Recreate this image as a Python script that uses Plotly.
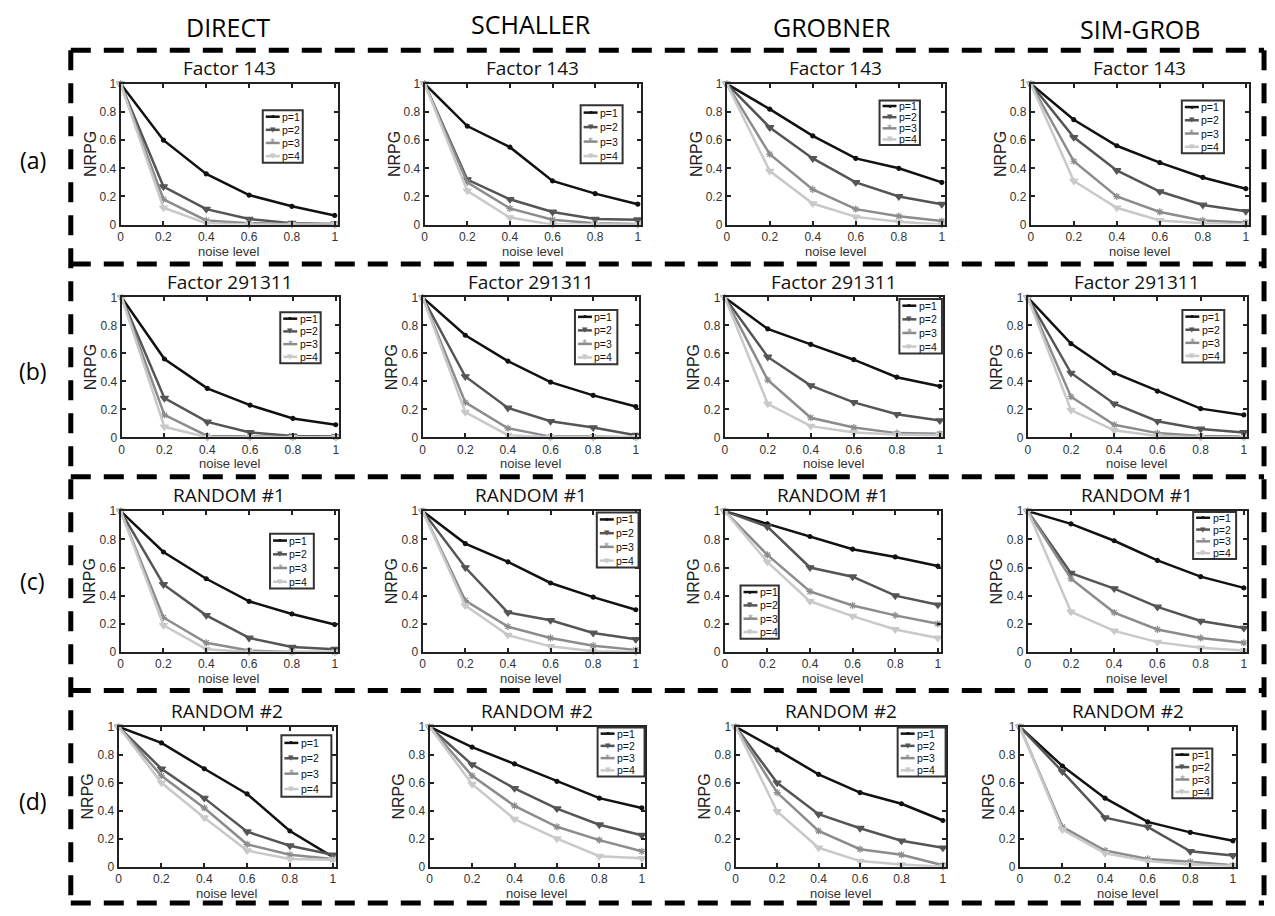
import plotly.graph_objects as go

W, H = 1275, 916

# ---------------- data ----------------
noise = [0, 0.2, 0.4, 0.6, 0.8, 1.0]
tick_vals = [0, 0.2, 0.4, 0.6, 0.8, 1.0]
tick_text = ["0", "0.2", "0.4", "0.6", "0.8", "1"]
methods = ["DIRECT", "SCHALLER", "GROBNER", "SIM-GROB"]
row_labels = ["(a)", "(b)", "(c)", "(d)"]
row_titles = ["Factor 143", "Factor 291311", "RANDOM #1", "RANDOM #2"]
series_names = ["p=1", "p=2", "p=3", "p=4"]
x_label = "noise level"
y_label = "NRPG"

# each panel: [p=1, p=2, p=3, p=4]
f143_direct = [[1, 0.60, 0.36, 0.21, 0.13, 0.065],
               [1, 0.27, 0.11, 0.04, 0.01, 0.005],
               [1, 0.18, 0.03, 0.01, 0.005, 0.0],
               [1, 0.12, 0.01, 0.0, 0.0, 0.0]]
f143_schaller = [[1, 0.70, 0.55, 0.31, 0.22, 0.145],
                 [1, 0.32, 0.18, 0.09, 0.04, 0.035],
                 [1, 0.30, 0.115, 0.035, 0.01, 0.005],
                 [1, 0.24, 0.05, 0.0, 0.0, 0.0]]
f143_grobner = [[1, 0.82, 0.63, 0.47, 0.40, 0.30],
                [1, 0.69, 0.47, 0.30, 0.20, 0.145],
                [1, 0.50, 0.25, 0.11, 0.06, 0.025],
                [1, 0.38, 0.15, 0.055, 0.02, 0.0]]
f143_simgrob = [[1, 0.745, 0.56, 0.44, 0.335, 0.255],
                [1, 0.62, 0.385, 0.235, 0.14, 0.095],
                [1, 0.45, 0.20, 0.09, 0.03, 0.015],
                [1, 0.31, 0.12, 0.03, 0.01, 0.0]]

f291311_direct = [[1, 0.56, 0.35, 0.23, 0.135, 0.09],
                  [1, 0.28, 0.11, 0.035, 0.01, 0.005],
                  [1, 0.16, 0.01, 0.005, 0.0, 0.0],
                  [1, 0.075, 0.0, 0.0, 0.0, 0.0]]
f291311_schaller = [[1, 0.73, 0.545, 0.395, 0.30, 0.22],
                    [1, 0.435, 0.21, 0.115, 0.07, 0.015],
                    [1, 0.25, 0.065, 0.005, 0.005, 0.0],
                    [1, 0.18, 0.015, 0.0, 0.0, 0.0]]
f291311_grobner = [[1, 0.775, 0.665, 0.555, 0.43, 0.365],
                   [1, 0.575, 0.37, 0.25, 0.165, 0.12],
                   [1, 0.41, 0.14, 0.07, 0.03, 0.025],
                   [1, 0.24, 0.08, 0.035, 0.02, 0.015]]
f291311_simgrob = [[1, 0.67, 0.46, 0.33, 0.205, 0.16],
                   [1, 0.46, 0.24, 0.115, 0.06, 0.035],
                   [1, 0.29, 0.09, 0.03, 0.01, 0.005],
                   [1, 0.195, 0.05, 0.01, 0.0, 0.0]]

rand1_direct = [[1, 0.71, 0.52, 0.36, 0.27, 0.195],
                [1, 0.48, 0.26, 0.10, 0.035, 0.02],
                [1, 0.245, 0.065, 0.01, 0.0, 0.0],
                [1, 0.19, 0.02, 0.0, 0.0, 0.0]]
rand1_schaller = [[1, 0.77, 0.64, 0.49, 0.39, 0.30],
                  [1, 0.60, 0.28, 0.225, 0.135, 0.09],
                  [1, 0.365, 0.18, 0.10, 0.045, 0.015],
                  [1, 0.33, 0.12, 0.04, 0.005, 0.0]]
rand1_grobner = [[1, 0.91, 0.82, 0.73, 0.675, 0.61],
                 [1, 0.89, 0.60, 0.535, 0.40, 0.335],
                 [1, 0.69, 0.43, 0.33, 0.26, 0.20],
                 [1, 0.64, 0.36, 0.255, 0.16, 0.10]]
rand1_simgrob = [[1, 0.91, 0.79, 0.65, 0.535, 0.455],
                 [1, 0.56, 0.45, 0.32, 0.22, 0.17],
                 [1, 0.52, 0.28, 0.16, 0.10, 0.065],
                 [1, 0.285, 0.15, 0.07, 0.03, 0.01]]

rand2_direct = [[1, 0.885, 0.70, 0.52, 0.255, 0.07],
                [1, 0.70, 0.49, 0.25, 0.15, 0.085],
                [1, 0.65, 0.42, 0.16, 0.085, 0.055],
                [1, 0.60, 0.35, 0.115, 0.055, 0.05]]
rand2_schaller = [[1, 0.855, 0.735, 0.61, 0.49, 0.42],
                  [1, 0.73, 0.56, 0.415, 0.30, 0.225],
                  [1, 0.65, 0.435, 0.285, 0.19, 0.11],
                  [1, 0.59, 0.34, 0.20, 0.075, 0.06]]
rand2_grobner = [[1, 0.835, 0.66, 0.53, 0.45, 0.33],
                 [1, 0.60, 0.375, 0.275, 0.185, 0.135],
                 [1, 0.53, 0.255, 0.125, 0.085, 0.01],
                 [1, 0.395, 0.135, 0.04, 0.015, 0.0]]
rand2_simgrob = [[1, 0.72, 0.49, 0.32, 0.245, 0.185],
                 [1, 0.68, 0.35, 0.285, 0.11, 0.08],
                 [1, 0.285, 0.115, 0.055, 0.035, 0.01],
                 [1, 0.265, 0.095, 0.04, 0.015, 0.005]]

panels = [
    [f143_direct, f143_schaller, f143_grobner, f143_simgrob],
    [f291311_direct, f291311_schaller, f291311_grobner, f291311_simgrob],
    [rand1_direct, rand1_schaller, rand1_grobner, rand1_simgrob],
    [rand2_direct, rand2_schaller, rand2_grobner, rand2_simgrob],
]

# ---------------- styling / layout geometry (pixels) ----------------
colors = ["#111111", "#555555", "#8c8c8c", "#c9c9c9"]
symbols = ["circle", "triangle-down", "asterisk-open", "triangle-down"]
msizes = [4, 7, 6, 7]
glyphs = ["\u2022", "\u25BC", "*", "\u25BC"]
gsizes = [10, 7, 10, 7]

XPIX = [
    [(118, 336), (423, 640), (726, 945), (1031, 1250)],
    [(119, 337), (421, 638), (724, 943), (1028, 1248)],
    [(118, 336), (421, 638), (724, 941), (1028, 1248)],
    [(116, 334), (428, 644), (735, 946), (1020, 1237)],
]
YPIX = [(78, 221), (295, 437), (512, 655), (731, 873)]

# legend boxes in axis-domain fractions: x0, x1, y0, y1
LEG = [
    [(0.654, 0.838, 0.44, 0.813), (0.721, 0.915, 0.435, 0.847),
     (0.70, 0.885, 0.565, 0.882), (0.692, 0.885, 0.506, 0.882)],
    [(0.73, 0.916, 0.53, 0.894), (0.704, 0.90, 0.523, 0.91),
     (0.80, 0.995, 0.60, 0.99), (0.705, 0.896, 0.535, 0.91)],
    [(0.6875, 0.889, 0.45, 0.84), (0.805, 0.998, 0.60, 0.99),
     (0.073, 0.25, 0.094, 0.473), (0.754, 0.95, 0.66, 0.995)],
    [(0.749, 0.979, 0.50, 0.94), (0.78, 0.998, 0.645, 0.995),
     (0.77, 0.998, 0.645, 0.995), (0.705, 0.89, 0.49, 0.845)],
]

sans = "Liberation Sans, Arial, sans-serif"
tick_font = dict(family=sans, size=12, color="#333333")
title_font = dict(family="Open Sans, sans-serif", size=19, color="#111111")

fig = go.Figure()
shapes = []
annotations = []

for r in range(4):
    top, bot = YPIX[r]
    for c in range(4):
        k = r * 4 + c + 1
        xa = "x" if k == 1 else f"x{k}"
        ya = "y" if k == 1 else f"y{k}"
        data = panels[r][c]
        for i in range(4):
            fig.add_trace(go.Scatter(
                x=noise, y=data[i], name=series_names[i], mode="lines+markers",
                line=dict(color=colors[i], width=2.5),
                marker=dict(symbol=symbols[i], size=msizes[i], color=colors[i],
                            line=dict(color=colors[i], width=1.2)),
                xaxis=xa, yaxis=ya, showlegend=False, cliponaxis=False))
        left, right = XPIX[r][c]
        pw, ph = right - left, bot - top
        axis_common = dict(
            showline=True, linewidth=2, linecolor="#222222", mirror="ticks",
            ticks="inside", ticklen=4, tickwidth=1.5, tickcolor="#222222",
            showgrid=False, zeroline=False, tickfont=tick_font,
            tickvals=tick_vals, ticktext=tick_text, fixedrange=True)
        fig.update_layout({
            ("xaxis" if k == 1 else f"xaxis{k}"): dict(
                domain=[left / W, right / W], anchor=ya, range=[0, 1.015],
                **axis_common),
            ("yaxis" if k == 1 else f"yaxis{k}"): dict(
                domain=[1 - bot / H, 1 - top / H], anchor=xa, range=[0, 1],
                **axis_common),
        })
        # axis titles
        annotations.append(dict(
            x=(left + right) / 2 / W, y=1 - (bot + 27) / H, xref="paper", yref="paper",
            text=x_label, showarrow=False, xanchor="center", yanchor="middle",
            font=dict(family=sans, size=13, color="#333333")))
        annotations.append(dict(
            x=(left - 31) / W, y=1 - (top + bot) / 2 / H, xref="paper", yref="paper",
            text=y_label, showarrow=False, xanchor="center", yanchor="middle", textangle=-90,
            font=dict(family=sans, size=16, color="#222222")))
        # panel title
        annotations.append(dict(
            x=(left + right) / 2 / W, y=1 - (top - 16) / H, xref="paper", yref="paper",
            text=row_titles[r], showarrow=False, font=title_font,
            xanchor="center", yanchor="middle"))
        # legend box (drawn manually to match the compact MATLAB style)
        lx0, lx1, ly0, ly1 = LEG[r][c]
        xd = f"{xa} domain"
        yd = f"{ya} domain"
        shapes.append(dict(type="rect", xref=xd, yref=yd, x0=lx0, x1=lx1, y0=ly0, y1=ly1,
                           line=dict(color="#333333", width=2), fillcolor="white", layer="above"))
        step = (ly1 - ly0) / 4
        for i in range(4):
            yy = ly1 - (i + 0.5) * step
            s0 = lx0 + 3 / pw
            s1 = lx0 + 17 / pw
            shapes.append(dict(type="line", xref=xd, yref=yd, x0=s0, x1=s1, y0=yy, y1=yy,
                               line=dict(color=colors[i], width=2.5), layer="above"))
            annotations.append(dict(x=(s0 + s1) / 2, y=yy, xref=xd, yref=yd, text=glyphs[i],
                                    showarrow=False, xanchor="center", yanchor="middle",
                                    font=dict(family="DejaVu Sans", size=gsizes[i], color=colors[i])))
            annotations.append(dict(x=s1 + 0.5 / pw, y=yy, xref=xd, yref=yd, text=series_names[i],
                                    showarrow=False, xanchor="left", yanchor="middle",
                                    font=dict(family=sans, size=10.5, color="#111111")))

# column headers
header_x = [226, 530, 832, 1141]
header_y = [20, 17, 20, 22]
for c in range(4):
    annotations.append(dict(x=header_x[c] / W, y=1 - header_y[c] / H, xref="paper", yref="paper",
                            text=methods[c], showarrow=False, xanchor="center", yanchor="middle",
                            font=dict(family="Open Sans, sans-serif", size=25, color="#000000")))
# row labels
label_y = [155, 370, 583, 806]
for r in range(4):
    annotations.append(dict(x=30 / W, y=1 - label_y[r] / H, xref="paper", yref="paper",
                            text=row_labels[r], showarrow=False, xanchor="center", yanchor="middle",
                            font=dict(family="Open Sans, sans-serif", size=23, color="#000000")))

# dashed frame
dash = "20px,13px"
frame = dict(color="black", width=5, dash=dash)
bx0, bx1 = 68 / W, 1265 / W
for yv in [44, 261, 477, 694, 910]:
    shapes.append(dict(type="line", xref="paper", yref="paper", x0=bx0, x1=bx1,
                       y0=1 - yv / H, y1=1 - yv / H, line=frame))
for xv in [68, 1265]:
    shapes.append(dict(type="line", xref="paper", yref="paper", x0=xv / W, x1=xv / W,
                       y0=1 - 44 / H, y1=1 - 910 / H, line=frame))

fig.update_layout(
    width=W, height=H, margin=dict(l=0, r=0, t=0, b=0),
    paper_bgcolor="white", plot_bgcolor="white",
    showlegend=False, shapes=shapes, annotations=annotations,
)

fig.write_html("out.html", config={"displayModeBar": False},
               post_script="document.body.style.margin='0px';")
